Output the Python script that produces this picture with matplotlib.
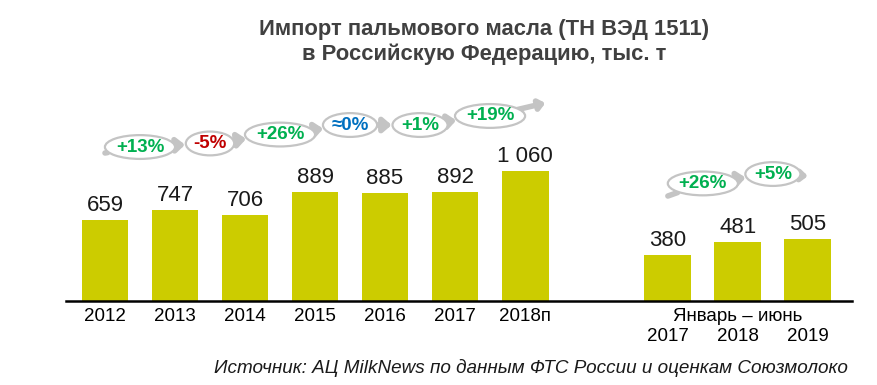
import matplotlib
matplotlib.use("Agg")
import matplotlib.pyplot as plt
from matplotlib.path import Path
from matplotlib.transforms import Affine2D

plt.rcParams['font.family'] = ['Liberation Sans', 'DejaVu Sans']

# data
years = ["2012", "2013", "2014", "2015", "2016", "2017", "2018п"]
imports = [659, 747, 706, 889, 885, 892, 1060]
h1_years = ["2017", "2018", "2019"]
h1_imports = [380, 481, 505]
growth = ["+13%", "-5%", "+26%", "≈0%", "+1%", "+19%"]
h1_growth = ["+26%", "+5%"]

# layout
BAR_COLOR = "#cccc00"
GRAY = "#c4c4c4"
GROWTH_COLORS = {"+": "#00b050", "-": "#c00000", "≈": "#0070c0"}
x_main = list(range(len(years)))
x_h1 = [8.04 + i for i in range(len(h1_years))]
bubble_y = [1260, 1289, 1362, 1440, 1440, 1514]
h1_bubble_y = [962, 1039]
HEAD = "head_length=0.35,head_width=0.3"


def oval(x0, y0, width, height, mutation_size):
    w, h = width * 1.45, height * 1.4
    return Path.unit_circle().transformed(
        Affine2D().scale(w / 2, h / 2).translate(x0 + width / 2, y0 + height / 2))


fig = plt.figure(figsize=(8.77, 3.85), dpi=100)
ax = fig.add_axes([66 / 877, 84 / 385, 786 / 877, 241 / 385])

ax.bar(x_main, imports, width=0.67, color=BAR_COLOR)
ax.bar(x_h1, h1_imports, width=0.67, color=BAR_COLOR)

for x, v in zip(x_main + x_h1, imports + h1_imports):
    ax.annotate(f"{v:,}".replace(",", " "), (x, v), xytext=(0, 6.5),
                textcoords="offset points", ha="center", va="baseline",
                fontsize=16, color="#1a1a1a")


def growth_chain(xs, labels, ys, start, end):
    # arrow past the last bubble
    ax.annotate("", xy=end, xytext=(xs[-1], ys[-1]), zorder=4,
                arrowprops=dict(arrowstyle="-|>," + HEAD,
                                color=GRAY, lw=4, shrinkA=0, shrinkB=0))
    prev = [start] + list(zip(xs, ys))[:-1]
    for i in reversed(range(len(labels))):
        lab = labels[i]
        style = "-" if i == 0 else "<|-," + HEAD
        ax.annotate(lab, xy=prev[i], xytext=(xs[i], ys[i]), zorder=5,
                    ha="center", va="center", fontsize=13.5, fontweight="bold",
                    color=GROWTH_COLORS[lab[0]],
                    bbox=dict(boxstyle=oval, fc="white", ec=GRAY, lw=1.6),
                    arrowprops=dict(arrowstyle=style, color=GRAY, lw=4,
                                    shrinkA=0, shrinkB=0))


mid_main = [(a + b) / 2 for a, b in zip(x_main[:-1], x_main[1:])]
mid_h1 = [(a + b) / 2 for a, b in zip(x_h1[:-1], x_h1[1:])]
growth_chain(mid_main, growth, bubble_y, (x_main[0], 1211), (x_main[-1] + 0.29, 1620))
growth_chain(mid_h1, h1_growth, h1_bubble_y, (x_h1[0], 859), (x_h1[-1], 1023))

ax.set_xlim(-0.557, 10.67)
ax.set_ylim(0, 1972)
ax.set_xticks(x_main + x_h1)
ax.set_xticklabels(years + h1_years, fontsize=13.5)
ax.tick_params(axis="x", length=0, pad=5)
for tick in ax.xaxis.get_major_ticks()[len(years):]:
    tick.set_pad(19.5)
ax.set_yticks([])
for s in ["left", "right", "top"]:
    ax.spines[s].set_visible(False)
ax.spines["bottom"].set_linewidth(1.8)
ax.spines["bottom"].set_color("black")

ax.annotate("Январь – июнь", xy=(x_h1[1], 0), xycoords=("data", "axes fraction"),
            xytext=(0, -5), textcoords="offset points", ha="center", va="top",
            fontsize=13.5)

fig.text(0.552, 1 - 35 / 385, "Импорт пальмового масла (ТН ВЭД 1511)",
         ha="center", va="baseline", fontsize=15.8, fontweight="bold", color="#404040")
fig.text(0.552, 1 - 60 / 385, "в Российскую Федерацию, тыс. т",
         ha="center", va="baseline", fontsize=15.8, fontweight="bold", color="#404040")
fig.text(848 / 877, 1 - 373 / 385,
         "Источник: АЦ MilkNews по данным ФТС России и оценкам Союзмолоко",
         ha="right", va="baseline", fontsize=13.6, style="italic", color="#1a1a1a")

fig.savefig("out.png", dpi=100)
